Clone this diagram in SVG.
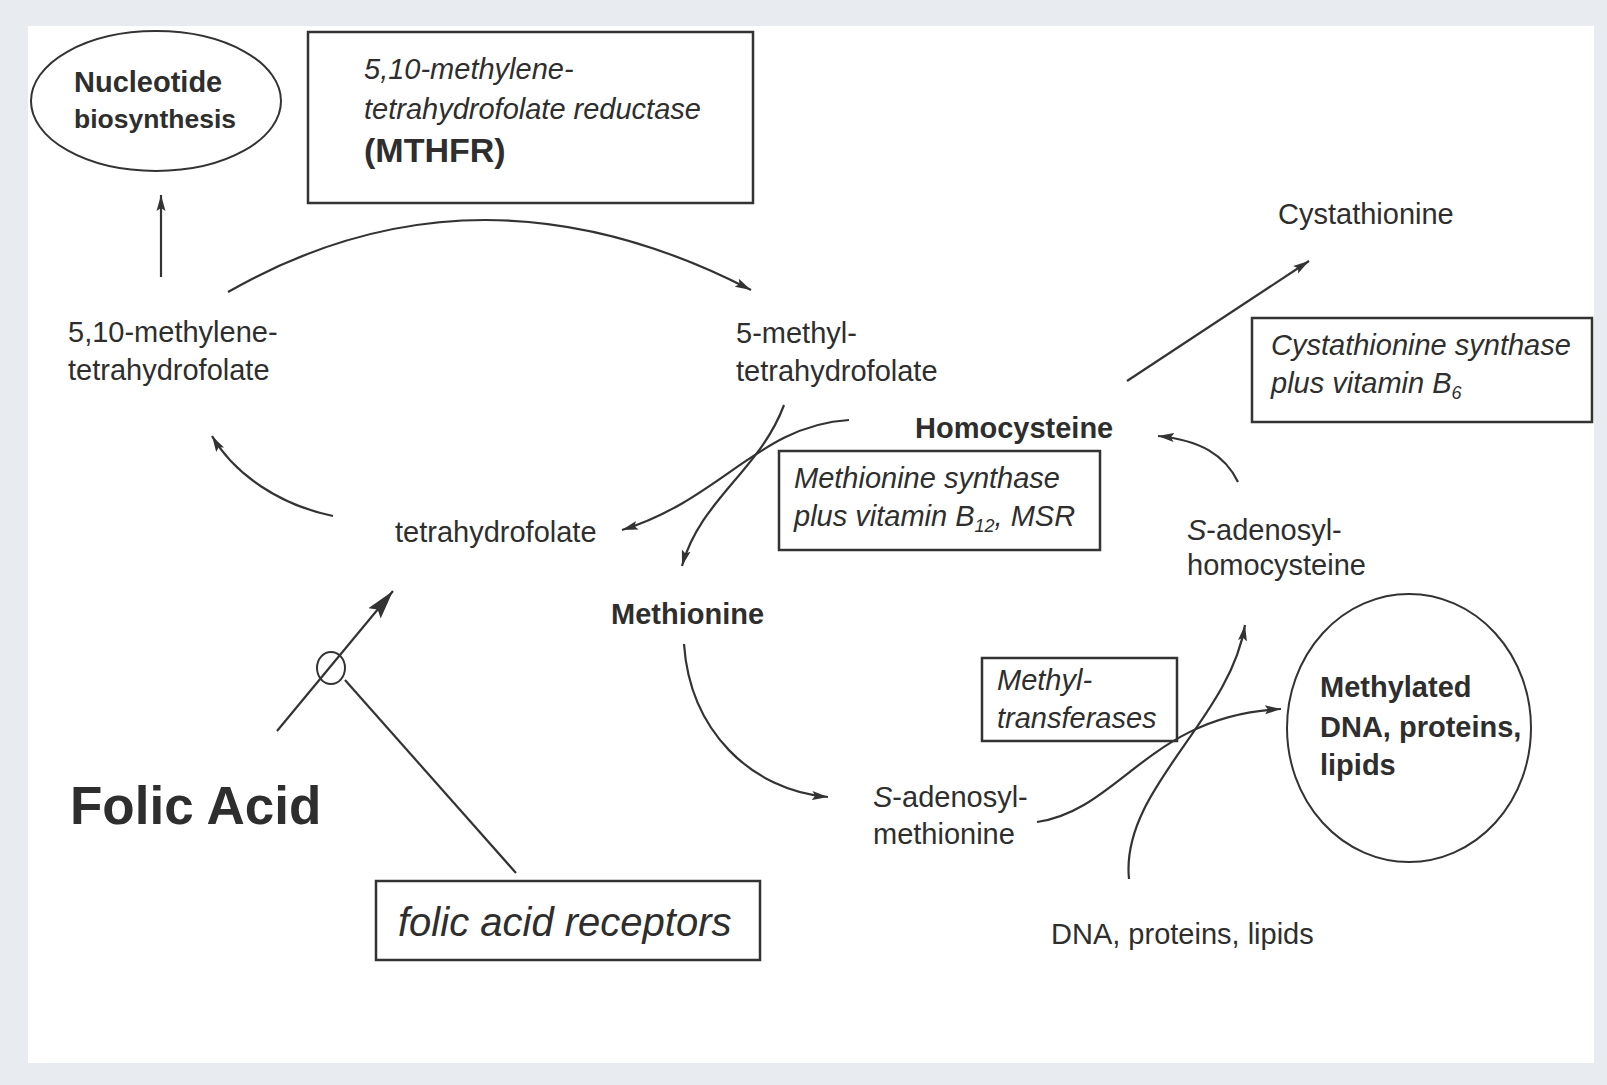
<svg xmlns="http://www.w3.org/2000/svg" width="1607" height="1085" viewBox="0 0 1607 1085">
<defs>
<style>
.t{font-family:"Liberation Sans",Arial,sans-serif;font-size:29px;fill:#2e2e2e}
.b{font-weight:bold}
.i{font-style:italic}
.box{fill:#fff;stroke:#333;stroke-width:2.5}
.ln{fill:none;stroke:#333;stroke-width:2.2}
</style>
<marker id="ah" markerUnits="userSpaceOnUse" markerWidth="17" markerHeight="11" refX="16" refY="5.5" orient="auto">
<path d="M0,1 L16,5.5 L0,10 L3,5.5 z" fill="#333"/>
</marker>
<marker id="ahBig" markerUnits="userSpaceOnUse" markerWidth="30" markerHeight="18" refX="29" refY="9" orient="auto">
<path d="M0,1 L29,9 L0,17 L5,9 z" fill="#333"/>
</marker>
</defs>
<rect x="0" y="0" width="1607" height="1085" fill="#e8ecf1"/>
<rect x="28" y="26" width="1566" height="1037" fill="#fff"/>

<g id="nucleotide">
<ellipse cx="156" cy="101" rx="125" ry="70" fill="none" stroke="#333" stroke-width="2"/>
<text class="t b" x="74" y="92">Nucleotide</text>
<text class="t b" x="74" y="128" style="font-size:26.5px">biosynthesis</text>
</g>

<g id="mthfr">
<rect class="box" x="308" y="32" width="445" height="171"/>
<text class="t i" x="364" y="79">5,10-methylene-</text>
<text class="t i" x="364" y="119">tetrahydrofolate reductase</text>
<text class="t b" x="364" y="162" style="font-size:34px">(MTHFR)</text>
</g>

<g id="methylene-thf">
<text class="t" x="68" y="342">5,10-methylene-</text>
<text class="t" x="68" y="380">tetrahydrofolate</text>
</g>

<g id="methyl-thf">
<text class="t" x="736" y="343">5-methyl-</text>
<text class="t" x="736" y="381">tetrahydrofolate</text>
</g>

<g id="cystathionine">
<text class="t" x="1278" y="224">Cystathionine</text>
</g>

<g id="cbs">
<rect class="box" x="1252" y="318" width="340" height="104"/>
<text class="t i" x="1271" y="355">Cystathionine synthase</text>
<text class="t i" x="1271" y="393">plus vitamin B<tspan style="font-size:18px" dy="6">6</tspan></text>
</g>

<g id="homocysteine">
<text class="t b" x="915" y="438">Homocysteine</text>
</g>

<g id="ms">
<rect class="box" x="779" y="451" width="321" height="99"/>
<text class="t i" x="794" y="488">Methionine synthase</text>
<text class="t i" x="794" y="526">plus vitamin B<tspan style="font-size:18px" dy="6">12</tspan><tspan dy="-6">, MSR</tspan></text>
</g>

<g id="thf">
<text class="t" x="395" y="542">tetrahydrofolate</text>
</g>

<g id="sah">
<text class="t" x="1187" y="540"><tspan class="i">S</tspan>-adenosyl-</text>
<text class="t" x="1187" y="575">homocysteine</text>
</g>

<g id="methionine">
<text class="t b" x="611" y="624">Methionine</text>
</g>

<g id="mt">
<rect class="box" x="982" y="658" width="195" height="83"/>
<text class="t i" x="997" y="690">Methyl-</text>
<text class="t i" x="997" y="728">transferases</text>
</g>

<g id="methylated">
<ellipse cx="1409" cy="728" rx="122" ry="134" fill="none" stroke="#333" stroke-width="2"/>
<text class="t b" x="1320" y="697">Methylated</text>
<text class="t b" x="1320" y="737">DNA, proteins,</text>
<text class="t b" x="1320" y="775">lipids</text>
</g>

<g id="sam">
<text class="t" x="873" y="807"><tspan class="i">S</tspan>-adenosyl-</text>
<text class="t" x="873" y="844">methionine</text>
</g>

<g id="folic-acid">
<text class="t b" x="70" y="824" style="font-size:53px">Folic Acid</text>
</g>

<g id="receptors">
<rect class="box" x="376" y="881" width="384" height="79"/>
<text class="t i" x="398" y="936" style="font-size:40px">folic acid receptors</text>
</g>

<g id="dna">
<text class="t" x="1051" y="944">DNA, proteins, lipids</text>
</g>

<g id="connectors">
<path class="ln" d="M161,277 L161,195" marker-end="url(#ah)"/>
<path class="ln" d="M228,292 Q478,149 751,290" marker-end="url(#ah)"/>
<path class="ln" d="M1127,381 L1309,261" marker-end="url(#ah)"/>
<path class="ln" d="M784,405 C760,470 700,500 682,566" marker-end="url(#ah)"/>
<path class="ln" d="M849,420 C760,425 720,500 622,530" marker-end="url(#ah)"/>
<path class="ln" d="M333,516 C280,505 235,475 212,436" marker-end="url(#ah)"/>
<path class="ln" d="M684,644 C690,730 750,790 828,797" marker-end="url(#ah)"/>
<path class="ln" d="M1238,482 C1225,455 1200,440 1158,436" marker-end="url(#ah)"/>
<path class="ln" d="M1037,822 C1120,810 1150,715 1281,709" marker-end="url(#ah)"/>
<path class="ln" d="M1129,879 C1120,790 1230,720 1245,625" marker-end="url(#ah)"/>
<path class="ln" d="M277,731 L393,591" marker-end="url(#ahBig)"/>
<ellipse cx="331" cy="668" rx="14" ry="16" fill="none" stroke="#333" stroke-width="2"/>
<path class="ln" d="M345,680 L516,873"/>
</g>
</svg>
